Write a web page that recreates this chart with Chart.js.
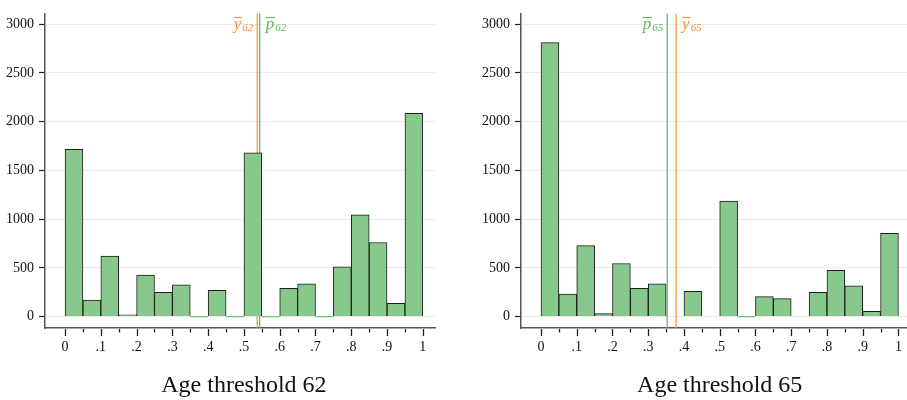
<!DOCTYPE html>
<html>
<head>
<meta charset="utf-8">
<script src="https://cdn.jsdelivr.net/npm/chart.js@4"></script>
<style>
  html, body { margin: 0; padding: 0; background: #fff; overflow: hidden; }
  #wrap { position: relative; width: 907px; height: 400px; }
  canvas { position: absolute; top: 0; }
</style>
</head>
<body>
<div id="wrap">
  <canvas id="chart62" width="453" height="400" style="left:0"></canvas>
  <canvas id="chart65" width="454" height="400" style="left:453px"></canvas>
</div>
<script>
// Histogram bins (start of each bin, width .05)
const binStarts = [0, .05, .1, .15, .2, .25, .3, .35, .4, .45, .5, .55, .6, .65, .7, .75, .8, .85, .9, .95];
const binWidth = 0.05;

// Counts per bin (null = no bar drawn)
const counts62 = [1715, 170, 620, 18, 425, 250, 325, 0, 270, 0, 1680, 0, 290, 335, 0, 510, 1045, 760, 135, 2085];
const counts65 = [2810, 230, 728, 30, 545, 290, 336, null, 260, null, 1185, 0, 205, 185, null, 250, 475, 315, 55, 855];

// Means shown as vertical lines
const thresholds = [62, 65];
const yBarMeans = [0.537, 0.378];
const pBarMeans = [0.544, 0.353];

// Ticks
const yTicks = [0, 500, 1000, 1500, 2000, 2500, 3000];
const xTicks = [0, .1, .2, .3, .4, .5, .6, .7, .8, .9, 1];
const xTickLabels = ['0', '.1', '.2', '.3', '.4', '.5', '.6', '.7', '.8', '.9', '1'];

const SERIF = "'Liberation Serif', 'Times New Roman', serif";
const GREEN_FILL = '#86c98a';
const GREEN_LINE = '#5aae66';
const GREEN_TEXT = '#5cb85c';
const ORANGE = '#f5902c';
const AXIS = '#555';

Chart.defaults.font.family = SERIF;
Chart.defaults.color = '#111';

function drawBarLabel(ctx, letter, sub, xEdge, side, color) {
  ctx.save();
  ctx.fillStyle = color;
  ctx.strokeStyle = color;
  ctx.font = 'italic 17px ' + SERIF;
  const wL = ctx.measureText(letter).width;
  ctx.font = 'italic 11px ' + SERIF;
  const wS = ctx.measureText(sub).width;
  const w = wL + wS + 1;
  const x0 = side === 'left' ? xEdge - w : xEdge;
  ctx.textAlign = 'left';
  ctx.textBaseline = 'alphabetic';
  ctx.font = 'italic 17px ' + SERIF;
  ctx.fillText(letter, x0, 29);
  ctx.font = 'italic 11px ' + SERIF;
  ctx.fillText(sub, x0 + wL + 1, 31);
  ctx.lineWidth = 1;
  ctx.beginPath();
  ctx.moveTo(x0, 17.5);
  ctx.lineTo(x0 + wL + 1, 17.5);
  ctx.stroke();
  ctx.restore();
}

function makeChart(canvasId, counts, age, yBar, pBar, padLeft, padRight, xMax) {
  const zeroPts = [];
  binStarts.forEach((s, i) => {
    if (counts[i] === 0) {
      zeroPts.push({ x: s, y: 0 }, { x: s + binWidth, y: 0 }, { x: s + binWidth, y: null });
    }
  });

  const extras = {
    id: 'extras' + age,
    beforeDatasetsDraw(chart) {
      const { ctx, chartArea, scales: { x } } = chart;
      const lines = [
        { v: yBar, color: ORANGE, text: ORANGE, letter: 'y' },
        { v: pBar, color: GREEN_LINE, text: GREEN_TEXT, letter: 'p' }
      ].sort((a, b) => a.v - b.v);
      lines.forEach((l, i) => {
        const px = x.getPixelForValue(l.v);
        ctx.save();
        ctx.strokeStyle = l.color;
        ctx.lineWidth = 1.2;
        ctx.beginPath();
        ctx.moveTo(px, chartArea.top);
        ctx.lineTo(px, chartArea.bottom);
        ctx.stroke();
        ctx.restore();
        if (i === 0) drawBarLabel(ctx, l.letter, String(age), px - 4, 'left', l.text);
        else drawBarLabel(ctx, l.letter, String(age), px + 6, 'right', l.text);
      });
    },
    afterDraw(chart) {
      const { ctx, chartArea, scales: { x } } = chart;
      // x tick marks: long at labelled ticks, short at bin edges
      const edges = binStarts.concat([1]);
      ctx.save();
      ctx.strokeStyle = '#222';
      ctx.lineWidth = 1.3;
      edges.forEach(e => {
        const major = xTicks.some(t => Math.abs(t - e) < 1e-9);
        const px = Math.round(x.getPixelForValue(e)) + 0.5;
        ctx.beginPath();
        ctx.moveTo(px, chartArea.bottom + 1);
        ctx.lineTo(px, chartArea.bottom + (major ? 8 : 4.5));
        ctx.stroke();
      });
      // panel title
      ctx.fillStyle = '#111';
      ctx.font = '24px ' + SERIF;
      ctx.textAlign = 'center';
      ctx.textBaseline = 'alphabetic';
      const cx = (x.getPixelForValue(0) + x.getPixelForValue(1)) / 2;
      ctx.fillText('Age threshold ' + age, cx, 392);
      ctx.restore();
    }
  };

  return new Chart(document.getElementById(canvasId), {
    type: 'bar',
    data: {
      datasets: [
        {
          type: 'bar',
          data: binStarts.map((s, i) => ({ x: s + binWidth / 2, y: counts[i] })),
          backgroundColor: GREEN_FILL,
          borderColor: '#1c1c1c',
          borderWidth: 1,
          barPercentage: 1,
          categoryPercentage: 1,
          order: 1
        },
        {
          type: 'line',
          data: zeroPts,
          borderColor: '#6cc174',
          borderWidth: 1.2,
          pointRadius: 0,
          spanGaps: false,
          order: 2
        }
      ]
    },
    options: {
      responsive: false,
      animation: false,
      layout: { padding: { left: padLeft, right: padRight, top: 5, bottom: 0 } },
      plugins: {
        legend: { display: false },
        tooltip: { enabled: false }
      },
      scales: {
        x: {
          type: 'linear',
          offset: false,
          min: -0.056,
          max: xMax,
          afterBuildTicks: s => { s.ticks = xTicks.map(v => ({ value: v })); },
          afterFit: s => { s.height = 72; },
          grid: { display: false, drawTicks: true, tickLength: 9 },
          border: { display: true, color: AXIS, width: 1.5 },
          ticks: {
            autoSkip: false,
            maxRotation: 0,
            padding: 2,
            color: '#111',
            font: { size: 14, family: SERIF },
            callback: (v, i) => xTickLabels[i]
          }
        },
        y: {
          type: 'linear',
          min: -117,
          max: 3110,
          afterBuildTicks: s => { s.ticks = yTicks.map(v => ({ value: v })); },
          afterFit: s => { s.width = 45; },
          grid: { color: '#ececec', lineWidth: 1, drawTicks: true, tickLength: 6, tickColor: '#222', tickWidth: 1.2 },
          border: { display: true, color: AXIS, width: 1.5 },
          ticks: {
            padding: 5,
            color: '#111',
            font: { size: 14, family: SERIF },
            callback: v => String(v)
          }
        }
      }
    },
    plugins: [extras]
  });
}

makeChart('chart62', counts62, thresholds[0], yBarMeans[0], pBarMeans[0], 0, 18, 1.034);
makeChart('chart65', counts65, thresholds[1], yBarMeans[1], pBarMeans[1], 23, 0, 1.024);
</script>
</body>
</html>
